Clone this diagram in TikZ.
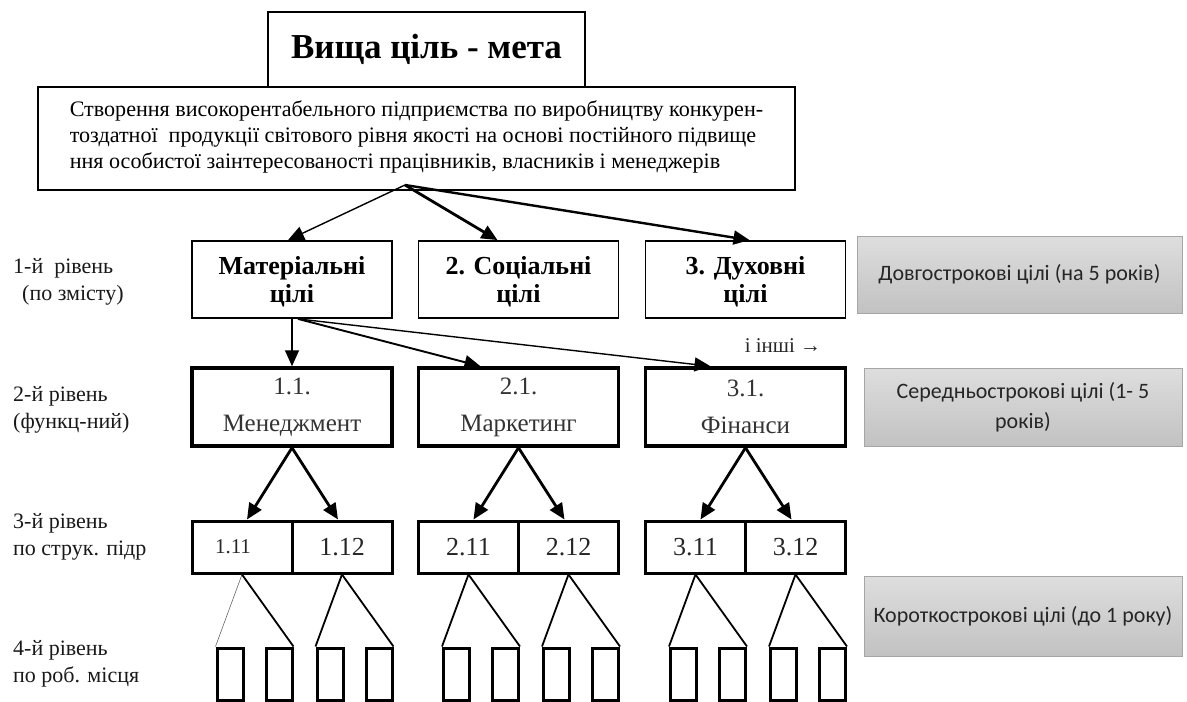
\documentclass[tikz,border=0pt]{standalone}
\usepackage{fontspec}
\setmainfont{Liberation Serif}
\newfontfamily\grfont{Carlito}
\usetikzlibrary{arrows.meta,calc}
\begin{document}
\begin{tikzpicture}[x=1pt,y=-1pt,
  topbox/.style={draw, line width=1.8pt, inner sep=0pt, minimum width=317pt, minimum height=75pt, font=\fontsize{35}{40}\selectfont\bfseries},
  txtbox/.style={draw, line width=1.8pt, inner sep=0pt, minimum width=757pt, minimum height=103pt},
  lvlone/.style={draw, line width=1.8pt, inner sep=0pt, minimum width=200pt, minimum height=77pt, align=center, font=\fontsize{26}{28}\selectfont\bfseries},
  lvltwo/.style={draw, line width=3.5pt, inner sep=0pt, minimum width=200pt, minimum height=78pt, align=center, text=black!80, font=\fontsize{25}{37}\selectfont},
  cellbox/.style={draw, line width=3pt, inner sep=0pt, minimum width=100pt, minimum height=52pt, font=\fontsize{26}{30}\selectfont, text=black!85},
  leafbox/.style={draw, line width=3pt, inner sep=0pt, minimum width=26pt, minimum height=52pt},
  greybox/.style={draw=black!35, line width=0.8pt, top color=black!13, bottom color=black!24, inner sep=0pt, align=center, text=black!85, font=\grfont\fontsize{22}{30}\selectfont},
  lvllabel/.style={anchor=west, align=left, inner sep=0pt, text=black!90, font=\fontsize{22}{27}\selectfont},
  arr/.style={-{Triangle[length=16pt,width=14pt]}},
  leafline/.style={line width=1.8pt}
]
\useasboundingbox (0,0) rectangle (1187,702);

% top
\node[topbox] (top) at (426.5,49.5) {Вища ціль - мета};
\node[txtbox] (txt) at (416.5,138.5) {};
\node[align=left, inner sep=0pt, font=\fontsize{22.1}{26}\selectfont] (txtc) at (416.5,137)
 {Створення високорентабельного підприємства по виробництву конкурен-\\
  тоздатної\ \ продукції світового рівня якості на основі постійного підвище\\
  ння особистої заінтересованості працівників, власників і менеджерів};
\coordinate (s0) at (405,185);

% level 1
\node[lvlone, text depth=-3pt] (mat) at (292,279.5) {Матеріальні\\цілі};
\node[lvlone, text depth=-3pt] (soc) at (518.5,279.5) {2. Соціальні\\цілі};
\node[lvlone, text depth=-3pt] (dux) at (745.5,279.5) {3. Духовні\\цілі};

% level 2
\node[lvltwo] (f11) at (292,407) {1.1.\\Менеджмент};
\node[lvltwo] (f21) at (518.5,407) {2.1.\\Маркетинг};
\node[lvltwo] (f31) at (745.5,407) {3.1.\\Фінанси};

% level 3
\node[cellbox, font=\fontsize{21}{24}\selectfont] (c111) at (242,547) {\hspace*{-18pt}1.11};
\node[cellbox] (c112) at (342,547) {1.12};
\node[cellbox] (c211) at (468.5,547) {2.11};
\node[cellbox] (c212) at (568.5,547) {2.12};
\node[cellbox] (c311) at (695.5,547) {3.11};
\node[cellbox] (c312) at (795.5,547) {3.12};

% level 4
\foreach \c in {c111,c112,c211,c212,c311,c312}{
  \node[leafbox] (\c a) at ([xshift=-12pt,yshift=-127pt]\c.center) {};
  \node[leafbox] (\c b) at ([xshift=37pt,yshift=-127pt]\c.center) {};
}
\draw[line width=0.6pt, black!60] (c111.south) -- (c111a.north west);
\draw[leafline] (c111.south) -- (c111b.north east);
\foreach \c in {c112,c211,c212,c311,c312}{
  \draw[leafline] (\c.south) -- (\c a.north west);
  \draw[leafline] (\c.south) -- (\c b.north east);
}

% grey boxes
\node[greybox, minimum width=325pt, minimum height=77pt] (g1) at (1019.5,274.5) {Довгострокові цілі (на 5 років)};
\node[greybox, minimum width=318pt, minimum height=78pt] (g2) at (1023,407) {Середньострокові цілі (1- 5\\років)};
\node[greybox, minimum width=318pt, minimum height=80pt] (g3) at (1023,616) {Короткострокові цілі (до 1 року)};

% labels
\node[lvllabel] (l1) at (13,281.5) {1-й\ \ рівень\\\hspace*{9pt}(по змісту)};
\node[lvllabel] (l2) at (13,410) {2-й рівень\\(функц-ний)};
\node[lvllabel] (l3) at (13,536.5) {3-й рівень\\по струк. підр};
\node[lvllabel] (l4) at (13,664) {4-й рівень\\по роб. місця};
\node[inner sep=0pt, font=\fontsize{21}{24}\selectfont, text=black!85] (others) at (783,346) {і інші →};

% arrows level 0 -> 1
\draw[arr, line width=1.4pt] (s0) -- ([xshift=-4pt]mat.north);
\draw[arr, line width=2.8pt] (s0) -- ([xshift=-21pt]soc.north);
\draw[arr, line width=2.4pt] (s0) -- ([xshift=4pt]dux.north);

% arrows level 1 -> 2
\draw[arr, line width=1.4pt] (mat.south) -- (f11.north);
\draw[arr, line width=1.9pt] ([xshift=6pt]mat.south) -- ([xshift=-38pt]f21.north);
\draw[arr, line width=1.4pt] ([xshift=6pt]mat.south) -- ([xshift=-35pt]f31.north);

% arrows level 2 -> 3
\foreach \f/\a/\b in {f11/c111/c112, f21/c211/c212, f31/c311/c312}{
  \draw[arr, line width=2.8pt] (\f.south) -- ([xshift=5pt]\a.north);
  \draw[arr, line width=2.8pt] (\f.south) -- ([xshift=-4pt]\b.north);
}
\end{tikzpicture}
\end{document}
